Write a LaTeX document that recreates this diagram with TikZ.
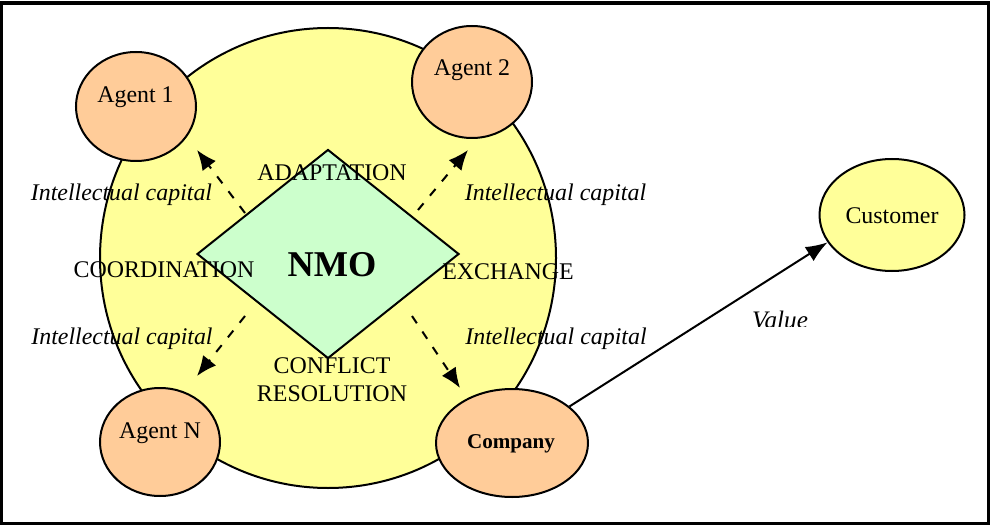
\documentclass[tikz,border=0pt]{standalone}
\usepackage{fontspec}
\setmainfont{Liberation Serif}
\usetikzlibrary{shapes.geometric}
\usetikzlibrary{arrows.meta}
\definecolor{paleyellow}{RGB}{255,255,153}
\definecolor{paleorange}{RGB}{255,204,153}
\definecolor{palegreen}{RGB}{204,255,204}
\tikzset{
	blob/.style={draw=black, line width=0.6mm, ellipse, inner sep=0pt},
	agent/.style={blob, fill=paleorange},
	word/.style={font=\fontsize{20.4}{24}\selectfont, inner sep=0pt, align=center},
	capital/.style={word, font=\fontsize{20.4}{24}\selectfont\itshape},
	flow/.style={-{Latex[length=6mm,width=5mm]}, dashed, line width=0.6mm, dash pattern=on 2.6mm off 3mm},
	valueflow/.style={-{Latex[length=6.5mm,width=5mm]}, line width=0.6mm}
}
\begin{document}
\begin{tikzpicture}[x=0.3mm,y=-0.3mm]
		\useasboundingbox (0,0) rectangle (990,525);
		
		%Frame
		\draw[line width=1.1mm] (1.5,3) rectangle (988.5,523.5);
		
		\node[blob, fill=paleyellow, minimum width=136.8mm, minimum height=138mm] (nmocircle) at (328,258) {};
		\node[agent, minimum width=36mm, minimum height=32.7mm] (agent1) at (136,106.5) {};
		\node[agent, minimum width=36mm, minimum height=33.6mm] (agent2) at (472,82) {};
		\node[agent, minimum width=36mm, minimum height=32.4mm] (agentn) at (160,442) {};
		\node[agent, minimum width=45.6mm, minimum height=32.4mm] (company) at (512,443) {};
		\node[blob, fill=paleyellow, minimum width=43.5mm, minimum height=33.6mm] (customer) at (892,215) {};
		
		\node[diamond, draw=black, line width=0.6mm, fill=palegreen, inner sep=0pt, minimum width=78.6mm, minimum height=62.7mm, aspect=1.28] (nmo) at (328,254) {};
		
		%Free ends of the dashed arrows
		\coordinate (n1) at (245,213);
		\coordinate (n2) at (418,210);
		\coordinate (n3) at (245,316);
		\coordinate (n4) at (412,316);
		\coordinate (e1) at (197,150);
		\coordinate (e2) at (468,150);
		\coordinate (e3) at (197,376);
		\coordinate (e4) at (460,388);
		
		\draw[flow] (n1) -- (e1);
		\draw[flow] (n2) -- (e2);
		\draw[flow] (n3) -- (e3);
		\draw[flow] (n4) -- (e4);
		\draw[valueflow] (company) -- (customer.203);
		
		\node[word] (agent1label) at (135.5,97) {Agent 1};
		\node[word] (agent2label) at (472,70) {Agent 2};
		\node[word] (agentnlabel) at (160,433) {Agent N};
		\node[word, font=\fontsize{18}{22}\selectfont\bfseries] (companylabel) at (511,444) {Company};
		\node[word] (customerlabel) at (892,216) {Customer};
		
		\node[word, font=\fontsize{31}{36}\selectfont\bfseries] (nmolabel) at (332,265) {NMO};
		\node[word] (adaptation) at (332,173) {ADAPTATION};
		\node[word] (coordination) at (164,270) {COORDINATION};
		\node[word] (exchange) at (508,272) {EXCHANGE};
		\node[word] (conflict) at (332,380) {CONFLICT\\RESOLUTION};
		
		\node[capital] (capital1) at (121.5,195) {Intellectual capital};
		\node[capital] (capital2) at (555.5,195) {Intellectual capital};
		\node[capital] (capital3) at (122,339) {Intellectual capital};
		\node[capital] (capital4) at (556,339) {Intellectual capital};
		
		%Value is cut off at its foot
		\begin{scope}
			\clip (740,300) rectangle (820,326);
			\node[capital, font=\fontsize{21.5}{24}\selectfont\itshape] (valuelabel) at (780,320) {Value};
		\end{scope}
\end{tikzpicture}
\end{document}
